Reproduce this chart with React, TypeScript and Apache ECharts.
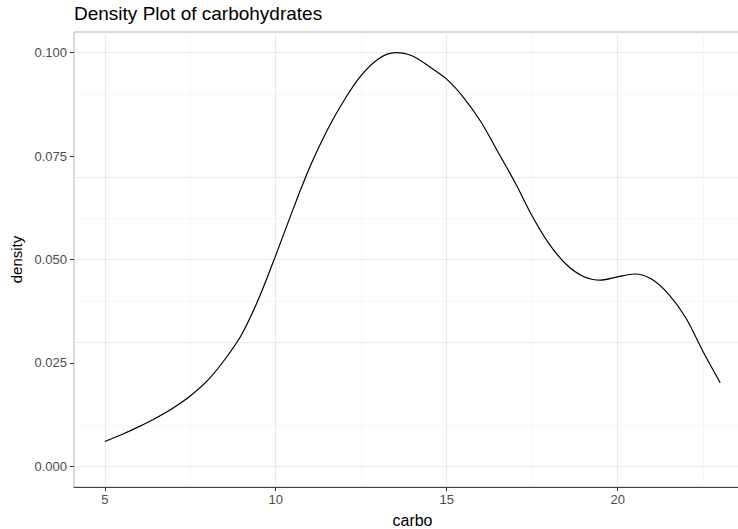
import React, { useEffect, useRef } from "react";
import * as echarts from "echarts";

const carbo = [5, 5.5, 6, 6.5, 7, 7.5, 8, 8.5, 9, 9.5, 10, 10.5, 11, 11.5, 12, 12.5, 13, 13.5, 14, 14.5, 15, 15.5, 16, 16.5, 17, 17.5, 18, 18.5, 19, 19.5, 20, 20.5, 21, 21.5, 22, 22.5, 23];
const density = [0.006, 0.0077, 0.0096, 0.0117, 0.0141, 0.0170, 0.0207, 0.0257, 0.0318, 0.0405, 0.051, 0.0620, 0.0724, 0.0812, 0.0885, 0.0945, 0.0985, 0.1000, 0.0992, 0.0966, 0.0936, 0.0891, 0.0833, 0.076, 0.0686, 0.0605, 0.0537, 0.0488, 0.0459, 0.045, 0.0458, 0.0465, 0.0452, 0.0415, 0.0358, 0.0277, 0.0202];

const xTicks = [5, 10, 15, 20];
const xMinor = [7.5, 12.5, 17.5, 22.5];
const yTicks = [0, 0.025, 0.05, 0.075, 0.1];
const yMinor = [0.0125, 0.0375, 0.0625, 0.0875];

const FONT = "'Liberation Sans', Arial, sans-serif";

export default function App() {
  const ref = useRef<HTMLDivElement>(null);
  useEffect(() => {
    if (!ref.current) return;
    const chart = echarts.init(ref.current, undefined, { renderer: "svg" });
    const major = { color: "#ebebeb", width: 1.1, type: "solid" as const };
    const minor = { color: "#f4f4f4", width: 0.7, type: "solid" as const };
    const gridLines = [
      ...xMinor.map((v) => ({ xAxis: v, lineStyle: minor })),
      ...yMinor.map((v) => ({ yAxis: v, lineStyle: minor })),
      ...xTicks.map((v) => ({ xAxis: v, lineStyle: major })),
      ...yTicks.map((v) => ({ yAxis: v, lineStyle: major })),
    ];
    chart.setOption({
      animation: false,
      backgroundColor: "#ffffff",
      title: {
        text: "Density Plot of carbohydrates",
        left: 74,
        top: 4,
        padding: 0,
        textStyle: { fontFamily: FONT, fontSize: 19, fontWeight: "normal", color: "#000" },
      },
      grid: {
        left: 74,
        top: 32,
        width: 677,
        height: 455,
        show: true,
        borderColor: "#b3b3b3",
        borderWidth: 1,
        containLabel: false,
        outerBoundsMode: "none",
      },
      xAxis: {
        type: "value",
        min: 4.1,
        max: 23.9,
        name: "carbo",
        nameLocation: "middle",
        nameGap: 25,
        nameTextStyle: { fontFamily: FONT, fontSize: 16, color: "#000" },
        axisLine: { show: true, onZero: false, lineStyle: { color: "#444", width: 1 } },
        axisTick: { show: true, length: 4, lineStyle: { color: "#333" }, customValues: xTicks },
        axisLabel: { customValues: xTicks, margin: 6, fontFamily: FONT, fontSize: 13, color: "#4d4d4d" },
        splitLine: { show: false },
      },
      yAxis: {
        type: "value",
        min: -0.005,
        max: 0.105,
        name: "density",
        nameLocation: "middle",
        nameGap: 40,
        nameTextStyle: { fontFamily: FONT, fontSize: 15, color: "#000" },
        axisLine: { show: false },
        axisTick: { show: true, length: 4, lineStyle: { color: "#333" }, customValues: yTicks },
        axisLabel: {
          customValues: yTicks,
          margin: 7,
          fontFamily: FONT,
          fontSize: 13,
          color: "#4d4d4d",
          formatter: (v: number) => v.toFixed(3),
        },
        splitLine: { show: false },
      },
      series: [
        {
          type: "line",
          data: carbo.map((x, i) => [x, density[i]]),
          symbol: "none",
          showSymbol: false,
          smooth: 0.3,
          lineStyle: { color: "#000", width: 1.2 },
          silent: true,
          markLine: {
            silent: true,
            z: 1,
            symbol: ["none", "none"],
            label: { show: false },
            emphasis: { disabled: true },
            data: gridLines,
          },
        },
      ],
    });
    return () => chart.dispose();
  }, []);
  return <div ref={ref} style={{ position: "fixed", left: 0, top: 0, width: 738, height: 529 }} />;
}
